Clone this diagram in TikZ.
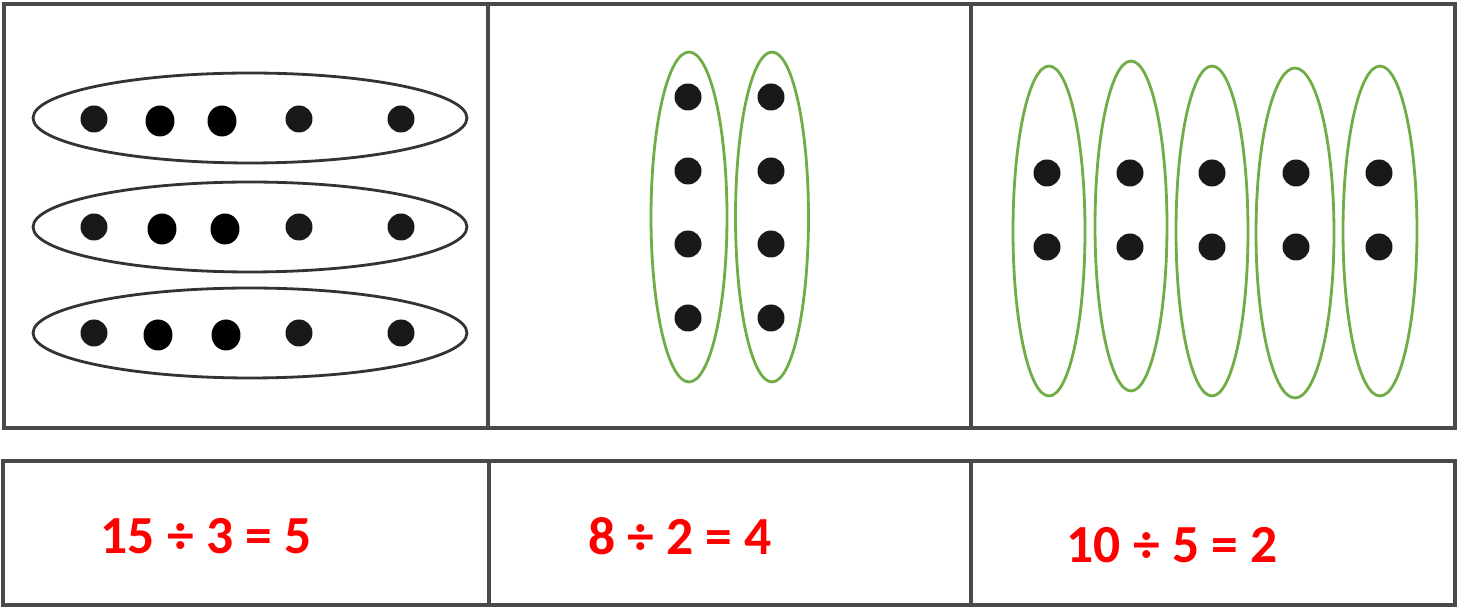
\documentclass[tikz,border=0pt]{standalone}
\usepackage{fontspec}
\setmainfont{Carlito}
\usepackage{tikz}
\usetikzlibrary{shapes.geometric}

\definecolor{groupgreen}{HTML}{70AD47}
\definecolor{boxgray}{HTML}{4A4A4A}

\begin{document}
\begin{tikzpicture}[
  x=0.02cm, y=-0.02cm,
  panel/.style={draw=boxgray, line width=1.8pt},
  dot/.style={circle, fill=black!90, minimum size=0.54cm, inner sep=0pt},
  bigdot/.style={ellipse, fill=black, minimum width=0.58cm, minimum height=0.62cm, inner sep=0pt},
  rowgroup/.style={ellipse, draw=black!80, line width=1.6pt, minimum width=8.68cm, minimum height=1.8cm, inner sep=0pt},
  colgroup/.style={ellipse, draw=groupgreen, line width=1.6pt, minimum width=1.48cm, minimum height=6.6cm, inner sep=0pt},
  equation/.style={text=red, font=\bfseries\fontsize{30.5}{36}\selectfont, inner sep=0pt}
  ]
\useasboundingbox (0,0) rectangle (1465,607);

% 나눗셈 그림
\draw[panel] (4,4) rectangle (1455,428);
\draw[panel] (488,4) -- (488,428);
\draw[panel] (971,4) -- (971,428);
\draw[panel] (3,461) rectangle (1455,605);
\draw[panel] (489,461) -- (489,605);
\draw[panel] (971,461) -- (971,605);

% 15 / 3
\node[rowgroup] (r1) at (250,118) {};
\node[rowgroup] (r2) at (250,227) {};
\node[rowgroup] (r3) at (250,333) {};
\node[dot] (r1a) at (94,119) {};
\node[bigdot] (r1b) at (160,121) {};
\node[bigdot] (r1c) at (222,121) {};
\node[dot] (r1d) at (299,119) {};
\node[dot] (r1e) at (401,119) {};
\node[dot] (r2a) at (94,227) {};
\node[bigdot] (r2b) at (162,229) {};
\node[bigdot] (r2c) at (225,229) {};
\node[dot] (r2d) at (299,227) {};
\node[dot] (r2e) at (401,227) {};
\node[dot] (r3a) at (94,333) {};
\node[bigdot] (r3b) at (158,335) {};
\node[bigdot] (r3c) at (226,335) {};
\node[dot] (r3d) at (299,333) {};
\node[dot] (r3e) at (401,333) {};

% 8 / 2
\node[colgroup, minimum width=1.52cm] (m1) at (689,217) {};
\node[colgroup, minimum width=1.46cm] (m2) at (772,217) {};
\node[dot] (m1a) at (688,97) {};
\node[dot] (m1b) at (688,171) {};
\node[dot] (m1c) at (688,244) {};
\node[dot] (m1d) at (688,318) {};
\node[dot] (m2a) at (771,97) {};
\node[dot] (m2b) at (771,171) {};
\node[dot] (m2c) at (771,244) {};
\node[dot] (m2d) at (771,318) {};

% 10 / 5
\node[colgroup, minimum width=1.44cm] (c1) at (1049,231) {};
\node[colgroup, minimum width=1.44cm] (c2) at (1131,226) {};
\node[colgroup, minimum width=1.44cm] (c3) at (1212,231) {};
\node[colgroup, minimum width=1.56cm] (c4) at (1295,233) {};
\node[colgroup] (c5) at (1380,231) {};
\node[dot] (c1a) at (1047,173) {};
\node[dot] (c1b) at (1047,247) {};
\node[dot] (c2a) at (1130,173) {};
\node[dot] (c2b) at (1130,247) {};
\node[dot] (c3a) at (1212,173) {};
\node[dot] (c3b) at (1212,247) {};
\node[dot] (c4a) at (1296,173) {};
\node[dot] (c4b) at (1296,247) {};
\node[dot] (c5a) at (1379,173) {};
\node[dot] (c5b) at (1379,247) {};

\node[equation] (eq1) at (206,536) {15 ÷ 3 = 5};
\node[equation] (eq2) at (680,536) {8 ÷ 2 = 4};
\node[equation] (eq3) at (1172,545) {10 ÷ 5 = 2};

\end{tikzpicture}
\end{document}
